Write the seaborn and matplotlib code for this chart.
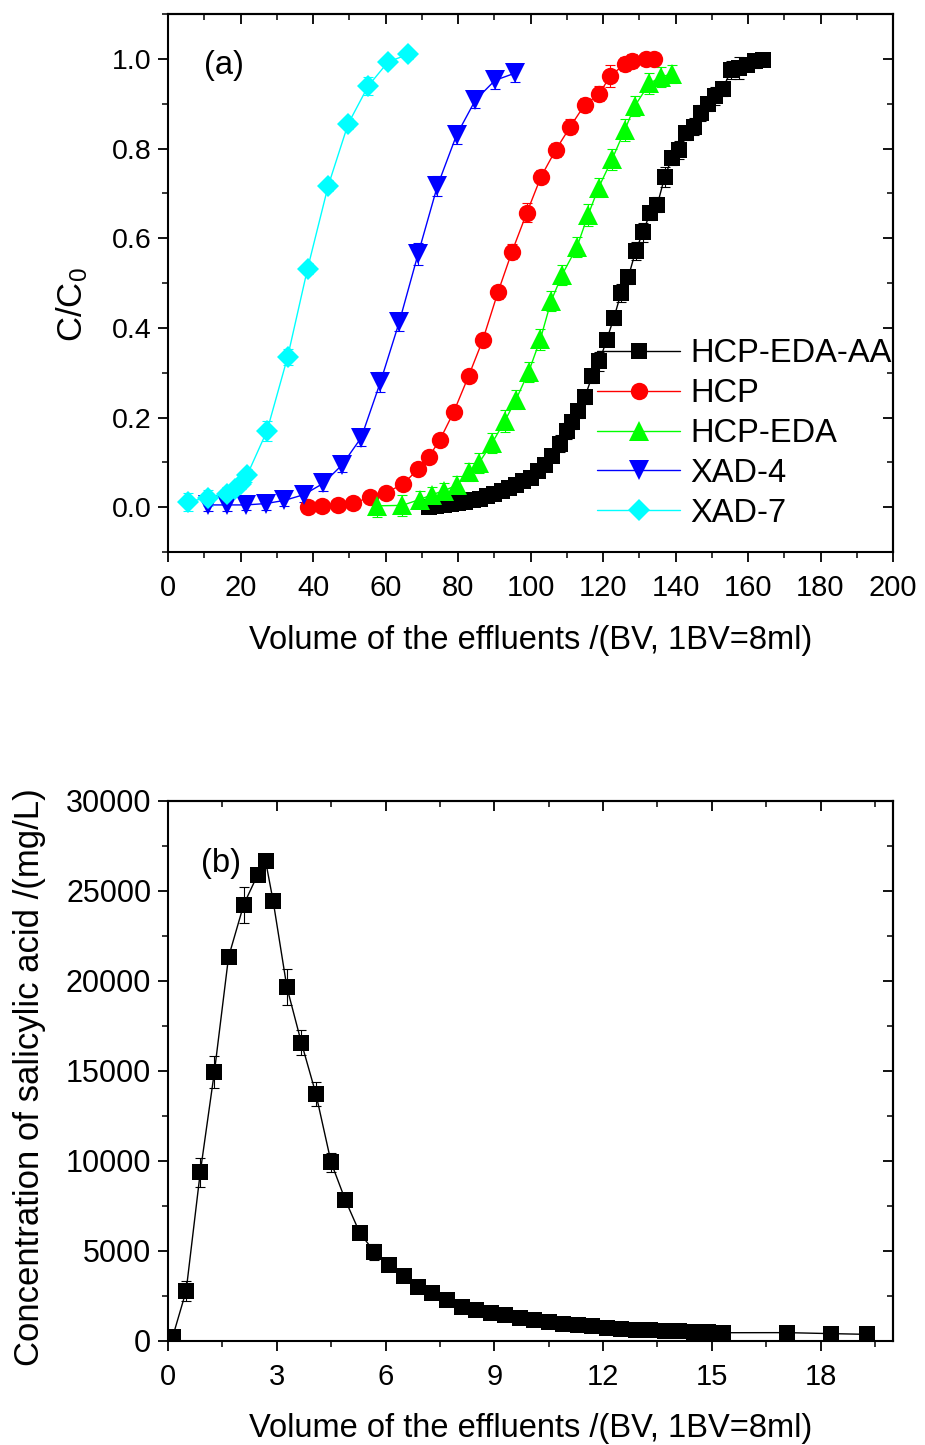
import numpy as np
import pandas as pd
import matplotlib
matplotlib.use("Agg")
import matplotlib.pyplot as plt
import seaborn as sns
from matplotlib.ticker import MultipleLocator

# ---------------- data: panel (a) ----------------
names_a = ["HCP-EDA-AA", "HCP", "HCP-EDA", "XAD-4", "XAD-7"]

x_aa = [72, 74, 76, 78, 80, 82, 84, 86, 88, 90, 92, 94, 96, 98, 100, 102, 104, 106,
        108, 110, 111.5, 113, 115, 117, 119, 121, 123, 125, 127, 129, 131, 133, 135,
        137, 139, 141, 143, 145, 147, 149, 151, 153, 155.4, 157.4, 159.7, 162, 164]
y_aa = [0.000, 0.002, 0.004, 0.006, 0.009, 0.012, 0.015, 0.019, 0.024, 0.029, 0.035,
        0.042, 0.050, 0.059, 0.066, 0.080, 0.095, 0.115, 0.142, 0.170, 0.190, 0.214,
        0.246, 0.292, 0.325, 0.373, 0.422, 0.478, 0.514, 0.571, 0.613, 0.656, 0.675,
        0.736, 0.779, 0.796, 0.834, 0.849, 0.880, 0.899, 0.918, 0.933, 0.975, 0.979,
        0.987, 0.995, 0.998]
e_aa = [0.005, 0.006, 0.006, 0.006, 0.007, 0.007, 0.008, 0.008, 0.009, 0.009, 0.010,
        0.010, 0.011, 0.012, 0.012, 0.013, 0.014, 0.015, 0.018, 0.018, 0.015, 0.016,
        0.015, 0.014, 0.022, 0.014, 0.016, 0.020, 0.016, 0.020, 0.021, 0.016, 0.016,
        0.022, 0.016, 0.020, 0.016, 0.020, 0.018, 0.016, 0.020, 0.016, 0.020, 0.025,
        0.015, 0.015, 0.012]

x_hcp = [38.5, 42.5, 46.9, 51.1, 55.7, 60.0, 64.8, 69.0, 72.0, 75.0, 78.8, 82.9, 86.8,
         91.0, 94.9, 99.0, 102.9, 106.9, 111.0, 114.9, 119.0, 122.0, 126.0, 128.0,
         131.9, 134.0]
y_hcp = [0.000, 0.002, 0.005, 0.009, 0.022, 0.032, 0.051, 0.085, 0.113, 0.150, 0.212,
         0.292, 0.372, 0.479, 0.570, 0.657, 0.737, 0.796, 0.849, 0.897, 0.922, 0.962,
         0.988, 0.995, 1.000, 1.000]
e_hcp = [0.005, 0.005, 0.006, 0.006, 0.008, 0.008, 0.009, 0.010, 0.010, 0.011, 0.012,
         0.012, 0.013, 0.014, 0.016, 0.022, 0.015, 0.016, 0.016, 0.016, 0.017, 0.024,
         0.016, 0.015, 0.012, 0.012]

x_eda = [57.7, 64.6, 69.4, 72.9, 76.2, 79.7, 83.0, 85.8, 89.4, 92.9, 96.0, 99.5, 102.7,
         105.7, 108.7, 112.8, 115.9, 118.8, 122.5, 126.0, 128.7, 132.8, 136.1, 138.9]
y_eda = [0.003, 0.004, 0.017, 0.028, 0.037, 0.049, 0.079, 0.099, 0.143, 0.192, 0.240,
         0.302, 0.374, 0.460, 0.518, 0.580, 0.652, 0.713, 0.776, 0.841, 0.894, 0.945,
         0.960, 0.966]
e_eda = [0.024, 0.024, 0.018, 0.016, 0.018, 0.020, 0.020, 0.022, 0.022, 0.024, 0.022,
         0.022, 0.024, 0.022, 0.022, 0.022, 0.024, 0.022, 0.024, 0.024, 0.022, 0.024,
         0.022, 0.020]

x_x4 = [11.0, 16.3, 21.5, 26.9, 32.1, 37.5, 42.8, 48.0, 53.3, 58.6, 63.8, 69.0, 74.3,
        79.6, 84.8, 90.2, 95.7]
y_x4 = [0.005, 0.005, 0.005, 0.008, 0.015, 0.028, 0.053, 0.094, 0.155, 0.279, 0.413,
        0.565, 0.716, 0.830, 0.908, 0.952, 0.968]
e_x4 = [0.014, 0.014, 0.012, 0.014, 0.012, 0.016, 0.016, 0.016, 0.018, 0.022, 0.020,
        0.024, 0.022, 0.020, 0.018, 0.020, 0.020]

x_x7 = [5.5, 11.0, 16.3, 18.5, 20.0, 21.8, 27.3, 33.0, 38.5, 44.2, 49.7, 55.2, 60.7, 66.2]
y_x7 = [0.012, 0.021, 0.030, 0.040, 0.052, 0.071, 0.170, 0.335, 0.532, 0.717, 0.855,
        0.939, 0.993, 1.010]
e_x7 = [0.020, 0.018, 0.016, 0.012, 0.012, 0.014, 0.022, 0.018, 0.012, 0.012, 0.012,
        0.020, 0.010, 0.010]

# ---------------- data: panel (b) ----------------
x_b = [0.13, 0.50, 0.89, 1.28, 1.67, 2.09, 2.47, 2.69, 2.90, 3.28, 3.68, 4.08, 4.50,
       4.89, 5.29, 5.69, 6.09, 6.50, 6.90, 7.29, 7.70, 8.10, 8.50, 8.90, 9.30, 9.70,
       10.10, 10.50, 10.90, 11.30, 11.70, 12.10, 12.50, 12.90, 13.30, 13.70, 14.10,
       14.50, 14.90, 15.30, 17.07, 18.28, 19.28]
y_b = [240, 2780, 9370, 14950, 21330, 24250, 25890, 26690, 24450, 19650, 16570, 13730,
       9920, 7840, 6010, 4960, 4210, 3630, 2980, 2680, 2280, 1890, 1700, 1555, 1425,
       1300, 1185, 1055, 965, 890, 815, 740, 670, 630, 595, 555, 535, 515, 500, 460,
       465, 410, 370]
e_b = [0, 550, 800, 900, 300, 1000, 250, 300, 200, 1000, 700, 650, 550, 200, 200, 450,
       200, 200, 200, 200, 200, 150, 150, 150, 100, 100, 100, 100, 100, 100, 100, 100,
       100, 100, 100, 100, 100, 100, 100, 100, 100, 350, 100]

colors_a = ["#000000", "#FF0000", "#00FF00", "#0000FF", "#00FFFF"]
markers_a = ["s", "o", "^", "v", "D"]
msizes_a = [12.0, 12.5, 14.0, 14.0, 11.0]

# ---------------- style ----------------
sns.set_style("ticks")
plt.rcParams["font.family"] = ["Liberation Sans", "DejaVu Sans"]
plt.rcParams["mathtext.fontset"] = "custom"
plt.rcParams["mathtext.rm"] = "Liberation Sans"
plt.rcParams["mathtext.it"] = "Liberation Sans:italic"
plt.rcParams["axes.linewidth"] = 1.5
plt.rcParams["text.color"] = "black"
plt.rcParams["axes.labelcolor"] = "black"
plt.rcParams["xtick.color"] = "black"
plt.rcParams["ytick.color"] = "black"
plt.rcParams["axes.edgecolor"] = "black"

W, H = 925, 1445
fig = plt.figure(figsize=(W / 100, H / 100), dpi=100)
ax_a = fig.add_axes([168 / W, 1 - 552 / H, 725 / W, 538 / H])
ax_b = fig.add_axes([168 / W, 1 - 1341 / H, 725 / W, 540 / H])

XTICK_FS = 21
LABEL_FS = 23.5


def style_axes(ax, xmaj, xmin, ymaj, ymin, ytick_fs):
    for s in ax.spines.values():
        s.set_visible(True)
        s.set_color("black")
        s.set_linewidth(1.5)
    ax.xaxis.set_major_locator(MultipleLocator(xmaj))
    ax.xaxis.set_minor_locator(MultipleLocator(xmin))
    ax.yaxis.set_major_locator(MultipleLocator(ymaj))
    ax.yaxis.set_minor_locator(MultipleLocator(ymin))
    ax.tick_params(which="major", direction="out", length=7, width=1.3,
                   colors="black", labelcolor="black")
    ax.tick_params(which="minor", direction="out", length=4, width=1.1, colors="black")
    ax.tick_params(axis="y", labelsize=ytick_fs, pad=5)
    ax.tick_params(axis="x", labelsize=XTICK_FS, pad=9)
    # mirrored inward ticks on top and right
    top = ax.secondary_xaxis("top")
    top.xaxis.set_major_locator(MultipleLocator(xmaj))
    top.xaxis.set_minor_locator(MultipleLocator(xmin))
    top.tick_params(which="major", direction="in", length=7, width=1.3, labeltop=False,
                    colors="black")
    top.tick_params(which="minor", direction="in", length=4, width=1.1, colors="black")
    right = ax.secondary_yaxis("right")
    right.yaxis.set_major_locator(MultipleLocator(ymaj))
    right.yaxis.set_minor_locator(MultipleLocator(ymin))
    right.tick_params(which="major", direction="in", length=7, width=1.3,
                      labelright=False, colors="black")
    right.tick_params(which="minor", direction="in", length=4, width=1.1, colors="black")
    ax.grid(False)


# ---------------- panel (a) ----------------
series_a = [(x_aa, y_aa, e_aa), (x_hcp, y_hcp, e_hcp), (x_eda, y_eda, e_eda),
            (x_x4, y_x4, e_x4), (x_x7, y_x7, e_x7)]
for i, (name, (xs, ys, es)) in enumerate(zip(names_a, series_a)):
    df = pd.DataFrame({"x": xs, "y": ys})
    ax_a.errorbar(xs, ys, yerr=es, fmt="none", ecolor=colors_a[i], elinewidth=0.8,
                  capsize=3.5, capthick=0.8, zorder=2 + i * 0.1)
    sns.lineplot(data=df, x="x", y="y", ax=ax_a, color=colors_a[i], marker=markers_a[i],
                 markersize=msizes_a[i], markeredgewidth=0, linewidth=1.0,
                 estimator=None, sort=False, errorbar=None, label=name,
                 zorder=3 + i * 0.1)

ax_a.set_xlim(0, 200)
ax_a.set_ylim(-0.1, 1.1)
style_axes(ax_a, 20, 10, 0.2, 0.1, 20.5)
ax_a.set_xlabel("Volume of the effluents /(BV, 1BV=8ml)", fontsize=LABEL_FS, va="top",
                color="black")
ax_a.xaxis.set_label_coords(0.5, -0.1355)
ax_a.set_ylabel("C/C$_0$", fontsize=25, color="black")
ax_a.yaxis.set_label_coords(-0.107, 0.459)
ax_a.text(0.05, 0.905, "(a)", transform=ax_a.transAxes, fontsize=LABEL_FS, va="center",
          color="black")
leg = ax_a.legend(loc="upper left", bbox_to_anchor=(0.592, 0.397), frameon=False,
                  fontsize=LABEL_FS, handlelength=2.55, handletextpad=0.3,
                  labelspacing=0.27, borderaxespad=0, borderpad=0)
for t in leg.get_texts():
    t.set_color("black")

# ---------------- panel (b) ----------------
df_b = pd.DataFrame({"x": x_b, "y": y_b})
ax_b.errorbar(x_b, y_b, yerr=e_b, fmt="none", ecolor="black", elinewidth=0.8,
              capsize=3.5, capthick=0.8, zorder=2)
sns.lineplot(data=df_b, x="x", y="y", ax=ax_b, color="black", marker="s",
             markersize=12.0, markeredgewidth=0, linewidth=1.0, estimator=None,
             sort=False, errorbar=None, zorder=3)
ax_b.set_xlim(0, 20)
ax_b.set_ylim(0, 30000)
style_axes(ax_b, 3, 1.5, 5000, 2500, 22)
ax_b.set_xlabel("Volume of the effluents /(BV, 1BV=8ml)", fontsize=LABEL_FS, va="top",
                color="black")
ax_b.xaxis.set_label_coords(0.5, -0.1335)
ax_b.set_ylabel("Concentration of salicylic acid /(mg/L)", fontsize=25, color="black")
ax_b.yaxis.set_label_coords(-0.168, 0.489)
ax_b.text(0.045, 0.885, "(b)", transform=ax_b.transAxes, fontsize=LABEL_FS, va="center",
          color="black")

fig.savefig("out.png", dpi=100)
